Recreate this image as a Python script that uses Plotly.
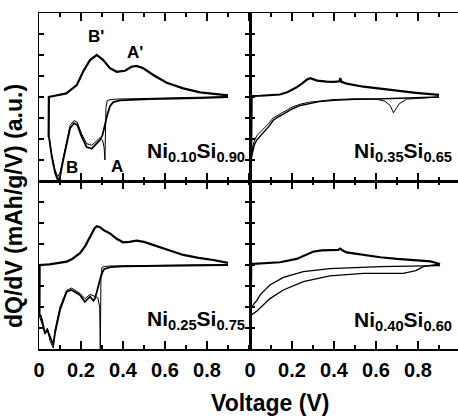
import plotly.graph_objects as go

FONT = "Liberation Sans"

# ---------------- data (V, dQ/dV in arbitrary units) ----------------
# Ni0.10Si0.90 (top-left)
tl_charge_v = [0.046, 0.047, 0.07, 0.092, 0.13, 0.18, 0.21, 0.243, 0.275, 0.306, 0.338, 0.37, 0.41,
               0.44, 0.465, 0.497, 0.544, 0.608, 0.687, 0.767, 0.846, 0.90]
tl_charge_y = [-1.9, 0.0, 0.05, 0.1, 0.17, 0.57, 1.2, 1.76, 2.0, 1.76, 1.37, 1.2, 1.25,
               1.44, 1.48, 1.37, 1.05, 0.68, 0.41, 0.22, 0.13, 0.08]
tl_dis1_v = [0.90, 0.767, 0.53, 0.45, 0.386, 0.354, 0.338, 0.325, 0.314, 0.303, 0.29, 0.275, 0.251,
             0.227, 0.203, 0.182, 0.167, 0.148, 0.132, 0.116, 0.10, 0.089, 0.076, 0.06, 0.049, 0.046]
tl_dis1_y = [0.0, -0.05, -0.1, -0.13, -0.16, -0.24, -0.44, -0.86, -1.4, -1.8, -2.05, -2.2, -2.46,
             -2.38, -1.89, -1.33, -1.25, -1.49, -2.2, -2.98, -3.8, -3.95, -3.6, -2.8, -2.0, -1.9]
tl_dis2_v = [0.90, 0.53, 0.37, 0.338, 0.325, 0.319, 0.316, 0.314, 0.31, 0.303, 0.29, 0.275, 0.251,
             0.227, 0.203, 0.182, 0.167, 0.148, 0.132, 0.116, 0.10, 0.089, 0.076, 0.06, 0.049]
tl_dis2_y = [0.02, -0.05, -0.1, -0.13, -0.17, -0.5, -1.75, -3.0, -2.4, -2.06, -1.95, -2.1, -2.3,
             -2.22, -1.75, -1.2, -1.12, -1.35, -2.05, -2.85, -3.6, -3.8, -3.45, -2.7, -1.95]

# Ni0.35Si0.65 (top-right)
tr_charge_v = [0.005, 0.008, 0.05, 0.10, 0.143, 0.18, 0.222, 0.25, 0.27, 0.286, 0.30, 0.32, 0.365,
               0.40, 0.425, 0.43, 0.435, 0.46, 0.54, 0.62, 0.70, 0.79, 0.86, 0.90]
tr_charge_y = [-2.9, 0.05, 0.06, 0.08, 0.12, 0.24, 0.46, 0.66, 0.82, 0.9, 0.86, 0.78, 0.73,
               0.72, 0.75, 0.9, 0.72, 0.64, 0.49, 0.41, 0.3, 0.2, 0.14, 0.1]
tr_dis1_v = [0.90, 0.80, 0.70, 0.60, 0.50, 0.40, 0.33, 0.28, 0.24, 0.20, 0.18, 0.159, 0.13, 0.11,
             0.09, 0.063, 0.045, 0.032, 0.02, 0.012, 0.006]
tr_dis1_y = [0.0, -0.04, -0.07, -0.09, -0.11, -0.15, -0.22, -0.3, -0.4, -0.57, -0.7, -0.82, -0.97,
             -1.12, -1.4, -1.7, -1.9, -2.05, -2.3, -2.6, -2.9]
tr_dis2_v = [0.90, 0.80, 0.746, 0.71, 0.683, 0.667, 0.643, 0.60, 0.50, 0.40, 0.33, 0.28, 0.24, 0.20,
             0.18, 0.159, 0.13, 0.11, 0.09, 0.063, 0.045, 0.032, 0.02, 0.012, 0.006]
tr_dis2_y = [0.0, -0.05, -0.1, -0.33, -0.75, -0.4, -0.2, -0.1, -0.09, -0.12, -0.18, -0.25, -0.34, -0.48,
             -0.6, -0.72, -0.86, -1.0, -1.25, -1.55, -1.75, -1.85, -2.1, -2.4, -2.8]

# Ni0.25Si0.75 (bottom-left)
bl_charge_v = [0.002, 0.003, 0.05, 0.10, 0.132, 0.16, 0.195, 0.22, 0.245, 0.265, 0.275, 0.29, 0.31,
               0.338, 0.37, 0.40, 0.43, 0.465, 0.50, 0.545, 0.60, 0.687, 0.76, 0.83, 0.90]
bl_charge_y = [-2.3, 0.0, 0.03, 0.1, 0.16, 0.3, 0.56, 0.9, 1.4, 1.75, 1.85, 1.8, 1.65,
               1.5, 1.25, 1.08, 1.1, 1.16, 1.1, 0.95, 0.76, 0.48, 0.34, 0.24, 0.1]
bl_dis1_v = [0.90, 0.70, 0.50, 0.40, 0.34, 0.31, 0.30, 0.29, 0.275, 0.266, 0.259, 0.243, 0.219,
             0.195, 0.155, 0.132, 0.10, 0.076, 0.068, 0.052, 0.04, 0.029, 0.01, 0.0]
bl_dis1_y = [0.0, -0.02, -0.04, -0.06, -0.1, -0.2, -0.4, -0.71, -1.3, -1.6, -1.7, -1.5, -1.75,
             -1.43, -1.19, -1.27, -2.14, -3.25, -3.8, -3.4, -3.1, -3.25, -2.46, -2.3]
bl_dis2_v = [0.90, 0.50, 0.33, 0.30, 0.295, 0.292, 0.289, 0.28, 0.266, 0.243, 0.219, 0.195, 0.155,
             0.132, 0.10, 0.076, 0.068, 0.052, 0.04, 0.029, 0.015, 0.0]
bl_dis2_y = [0.02, -0.02, -0.05, -0.1, -0.6, -4.3, -2.0, -1.55, -1.5, -1.4, -1.6, -1.35, -1.1,
             -1.2, -2.0, -3.1, -3.95, -3.6, -3.0, -3.3, -2.8, -2.4]

# Ni0.40Si0.60 (bottom-right)
br_charge_v = [0.003, 0.006, 0.016, 0.08, 0.143, 0.222, 0.26, 0.30, 0.34, 0.38, 0.42, 0.43, 0.44,
               0.46, 0.54, 0.62, 0.70, 0.79, 0.86, 0.905]
br_charge_y = [-2.0, 0.05, 0.05, 0.08, 0.13, 0.29, 0.45, 0.63, 0.7, 0.71, 0.72, 0.78, 0.7,
               0.6, 0.47, 0.37, 0.29, 0.21, 0.17, 0.05]
br_dis1_v = [0.905, 0.62, 0.38, 0.254, 0.159, 0.095, 0.05, 0.032, 0.015, 0.003]
br_dis1_y = [-0.03, -0.08, -0.17, -0.32, -0.59, -0.95, -1.4, -1.7, -1.9, -2.0]
br_dis2_v = [0.905, 0.825, 0.79, 0.73, 0.54, 0.38, 0.254, 0.159, 0.095, 0.063, 0.032, 0.01, 0.003]
br_dis2_y = [0.05, -0.08, -0.27, -0.4, -0.4, -0.52, -0.79, -1.19, -1.6, -1.9, -2.2, -2.35, -2.4]

panel_labels = ["Ni<sub>0.10</sub>Si<sub>0.90</sub>", "Ni<sub>0.35</sub>Si<sub>0.65</sub>",
                "Ni<sub>0.25</sub>Si<sub>0.75</sub>", "Ni<sub>0.40</sub>Si<sub>0.60</sub>"]
tick_vals = [0, 0.2, 0.4, 0.6, 0.8]
tick_text = ["0", "0.2", "0.4", "0.6", "0.8"]
peak_labels = ["B'", "A'", "B", "A"]
peak_v = [0.271, 0.457, 0.157, 0.371]
peak_y = [2.9, 2.14, -3.38, -3.33]

# ---------------- figure ----------------
fig = go.Figure()
panels = [
    ("x", "y", [(tl_charge_v, tl_charge_y, 2.2), (tl_dis1_v, tl_dis1_y, 1.8), (tl_dis2_v, tl_dis2_y, 1.0)]),
    ("x2", "y2", [(tr_charge_v, tr_charge_y, 2.2), (tr_dis1_v, tr_dis1_y, 1.5), (tr_dis2_v, tr_dis2_y, 1.0)]),
    ("x3", "y3", [(bl_charge_v, bl_charge_y, 2.2), (bl_dis1_v, bl_dis1_y, 1.8), (bl_dis2_v, bl_dis2_y, 1.0)]),
    ("x4", "y4", [(br_charge_v, br_charge_y, 2.2), (br_dis1_v, br_dis1_y, 1.3), (br_dis2_v, br_dis2_y, 1.3)]),
]
for xa, ya, curves in panels:
    for vx, vy, w in curves:
        fig.add_trace(go.Scatter(x=vx, y=vy, xaxis=xa, yaxis=ya, mode="lines",
                                 line=dict(color="black", width=w), showlegend=False,
                                 hoverinfo="skip"))

W, H = 458, 418
ml, mr, mt, mb = 39, 0, 13, 69
pw = W - ml - mr
split = 211 / pw

def xax(domain, rng, anchor, labels):
    return dict(domain=domain, range=rng, anchor=anchor, showgrid=False, zeroline=False,
                showline=True, linecolor="black", linewidth=1.5, mirror="ticks",
                ticks="inside", ticklen=8, tickwidth=1.5, tickcolor="black",
                tick0=0, dtick=0.2,
                minor=dict(dtick=0.1, ticklen=4, tickwidth=1.5, tickcolor="black", ticks="inside", showgrid=False),
                showticklabels=labels, tickmode="array" if labels else "linear",
                tickvals=tick_vals if labels else None, ticktext=tick_text if labels else None,
                tickfont=dict(family=FONT, size=20, color="black", weight="bold"),
                ticklabelstandoff=2)

def yax(domain, anchor, mirror):
    return dict(domain=domain, range=[-4, 4], anchor=anchor, showgrid=False, zeroline=False,
                showline=True, linecolor="black", linewidth=1.5, mirror=mirror,
                ticks="inside", ticklen=5, tickwidth=1.5, tickcolor="black",
                tick0=0, dtick=1, showticklabels=False)

fig.update_layout(
    width=W, height=H, margin=dict(l=ml, r=mr, t=mt, b=mb),
    paper_bgcolor="white", plot_bgcolor="white",
    xaxis=xax([0, split], [0, 1.005], "y", False),
    yaxis=yax([0.5, 1], "x", "ticks"),
    xaxis2=xax([split, 1], [0, 208 / 210], "y2", False),
    yaxis2=yax([0.5, 1], "x2", False),
    xaxis3=xax([0, split], [0, 1.005], "y3", True),
    yaxis3=yax([0, 0.5], "x3", "ticks"),
    xaxis4=xax([split, 1], [0, 208 / 210], "y4", True),
    yaxis4=yax([0, 0.5], "x4", False),
)

ann = []
label_pos = [((247 - ml) / pw, (349 - 152) / 336), ((454 - ml) / pw, (349 - 152) / 336),
             ((247 - ml) / pw, (349 - 320) / 336), ((454 - ml) / pw, (349 - 321) / 336)]
for txt, (px, py) in zip(panel_labels, label_pos):
    ann.append(dict(text=txt, x=px, y=py, xref="paper", yref="paper", xanchor="right", yanchor="middle",
                    showarrow=False, font=dict(family=FONT, size=21, color="black", weight="bold")))
for txt, vx, vy in zip(peak_labels, peak_v, peak_y):
    ann.append(dict(text=txt, x=vx, y=vy, xref="x", yref="y", xanchor="center", yanchor="middle",
                    showarrow=False, font=dict(family=FONT, size=17, color="black", weight="bold")))
ann.append(dict(text="Voltage (V)", x=(270 - ml) / pw, y=(349 - 403) / 336, xref="paper", yref="paper",
                xanchor="center", yanchor="middle", showarrow=False,
                font=dict(family=FONT, size=23, color="black", weight="bold")))
ann.append(dict(text="dQ/dV (mAh/g/V) (a.u.)", x=(14 - ml) / pw, y=(349 - 206) / 336, xref="paper",
                yref="paper", xanchor="center", yanchor="middle", textangle=-90, showarrow=False,
                font=dict(family=FONT, size=23, color="black", weight="bold")))
fig.update_layout(annotations=ann)

fig.write_html("out.html", config={"displayModeBar": False, "staticPlot": True},
               post_script="document.body.style.margin='0';document.body.style.overflow='hidden';")
